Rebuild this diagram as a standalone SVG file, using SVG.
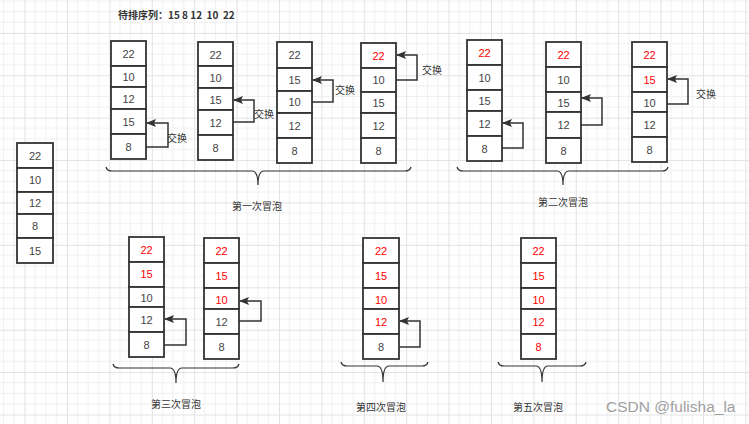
<svg xmlns="http://www.w3.org/2000/svg" width="749" height="424" viewBox="0 0 749 424">
<style>
.c{fill:#fff;stroke:#333;stroke-width:1.8}
.t{font-family:"Liberation Sans","Noto Sans CJK SC",sans-serif;font-size:11px;fill:#444;text-anchor:middle;dominant-baseline:central}
.r{fill:#f00}
.a{fill:none;stroke:#333;stroke-width:1.5}
.b{fill:none;stroke:#333;stroke-width:1.2}
.l{font-family:"Noto Sans CJK SC",sans-serif;font-size:10px;fill:#333;dominant-baseline:central}
.m{font-family:"Noto Sans CJK SC",sans-serif;font-size:10px;fill:#333;text-anchor:middle;dominant-baseline:central}
</style>
<defs>
<pattern id="g" patternUnits="userSpaceOnUse" width="42.4" height="42.4" x="24.6" y="32.9">
<path d="M10.6,0V42.4M21.2,0V42.4M31.8,0V42.4M0,10.6H42.4M0,21.2H42.4M0,31.8H42.4" stroke="#f0f0f0" stroke-width="1" fill="none"/>
<path d="M0.5,0V42.4M0,0.5H42.4" stroke="#e2e2e2" stroke-width="1" fill="none"/>
</pattern>
<marker id="ah" viewBox="0 0 10 10" refX="9" refY="5" markerWidth="10" markerHeight="10" markerUnits="userSpaceOnUse" orient="auto">
<path d="M0,1L10,5L0,9L2,5Z" fill="#333"/>
</marker>
</defs>
<rect width="749" height="424" fill="#fff"/>
<rect width="749" height="424" fill="url(#g)"/>
<text x="118" y="14" font-family="'Noto Sans CJK SC',sans-serif" font-size="10" font-weight="bold" fill="#333" dominant-baseline="central" xml:space="preserve">待排序列：15 8 12  10  22</text>

<g id="s0">
<rect class="c" x="17" y="143" width="36" height="25"/><rect class="c" x="17" y="168" width="36" height="24"/><rect class="c" x="17" y="192" width="36" height="22"/><rect class="c" x="17" y="214" width="36" height="24"/><rect class="c" x="17" y="238" width="36" height="25"/>
<text class="t" x="35" y="155.5">22</text><text class="t" x="35" y="180">10</text><text class="t" x="35" y="203">12</text><text class="t" x="35" y="226">8</text><text class="t" x="35" y="250.5">15</text>
</g>

<g id="s1">
<rect class="c" x="111" y="41" width="35" height="25"/><rect class="c" x="111" y="66" width="35" height="21"/><rect class="c" x="111" y="87" width="35" height="22"/><rect class="c" x="111" y="109" width="35" height="25"/><rect class="c" x="111" y="134" width="35" height="25"/>
<text class="t" x="128.5" y="53.5">22</text><text class="t" x="128.5" y="77">10</text><text class="t" x="128.5" y="98.5">12</text><text class="t" x="128.5" y="121.5">15</text><text class="t" x="128.5" y="146.5">8</text>
</g>
<g id="s2">
<rect class="c" x="198" y="42" width="35" height="24"/><rect class="c" x="198" y="66" width="35" height="22"/><rect class="c" x="198" y="88" width="35" height="22"/><rect class="c" x="198" y="110" width="35" height="25"/><rect class="c" x="198" y="135" width="35" height="25"/>
<text class="t" x="215.5" y="54.5">22</text><text class="t" x="215.5" y="77.5">10</text><text class="t" x="215.5" y="100">15</text><text class="t" x="215.5" y="122.5">12</text><text class="t" x="215.5" y="147.5">8</text>
</g>
<g id="s3">
<rect class="c" x="277" y="42" width="35" height="26"/><rect class="c" x="277" y="68" width="35" height="23"/><rect class="c" x="277" y="91" width="35" height="22"/><rect class="c" x="277" y="113" width="35" height="25"/><rect class="c" x="277" y="138" width="35" height="25"/>
<text class="t" x="294.5" y="55">22</text><text class="t" x="294.5" y="80">15</text><text class="t" x="294.5" y="102">10</text><text class="t" x="294.5" y="125.5">12</text><text class="t" x="294.5" y="150.5">8</text>
</g>
<g id="s4">
<rect class="c" x="361" y="43" width="35" height="25"/><rect class="c" x="361" y="68" width="35" height="24"/><rect class="c" x="361" y="92" width="35" height="21"/><rect class="c" x="361" y="113" width="35" height="25"/><rect class="c" x="361" y="138" width="35" height="25"/>
<text class="t r" x="378.5" y="55.5">22</text><text class="t" x="378.5" y="80">10</text><text class="t" x="378.5" y="103">15</text><text class="t" x="378.5" y="125.5">12</text><text class="t" x="378.5" y="150.5">8</text>
</g>
<g id="s5">
<rect class="c" x="467" y="40" width="35" height="25"/><rect class="c" x="467" y="65" width="35" height="25"/><rect class="c" x="467" y="90" width="35" height="21"/><rect class="c" x="467" y="111" width="35" height="25"/><rect class="c" x="467" y="136" width="35" height="25"/>
<text class="t r" x="484.5" y="52.5">22</text><text class="t" x="484.5" y="77.5">10</text><text class="t" x="484.5" y="101">15</text><text class="t" x="484.5" y="123.5">12</text><text class="t" x="484.5" y="148.5">8</text>
</g>
<g id="s6">
<rect class="c" x="546" y="42" width="35" height="25"/><rect class="c" x="546" y="67" width="35" height="25"/><rect class="c" x="546" y="92" width="35" height="20"/><rect class="c" x="546" y="112" width="35" height="26"/><rect class="c" x="546" y="138" width="35" height="25"/>
<text class="t r" x="563.5" y="54.5">22</text><text class="t" x="563.5" y="79.5">10</text><text class="t" x="563.5" y="103">15</text><text class="t" x="563.5" y="125">12</text><text class="t" x="563.5" y="150.5">8</text>
</g>
<g id="s7">
<rect class="c" x="632" y="42" width="35" height="25"/><rect class="c" x="632" y="67" width="35" height="25"/><rect class="c" x="632" y="92" width="35" height="20"/><rect class="c" x="632" y="112" width="35" height="25"/><rect class="c" x="632" y="137" width="35" height="25"/>
<text class="t r" x="649.5" y="54.5">22</text><text class="t r" x="649.5" y="79.5">15</text><text class="t" x="649.5" y="103">10</text><text class="t" x="649.5" y="124.5">12</text><text class="t" x="649.5" y="149.5">8</text>
</g>
<g id="s8">
<rect class="c" x="129" y="237" width="35" height="25"/><rect class="c" x="129" y="262" width="35" height="25"/><rect class="c" x="129" y="287" width="35" height="20"/><rect class="c" x="129" y="307" width="35" height="25"/><rect class="c" x="129" y="332" width="35" height="25"/>
<text class="t r" x="146.5" y="249.5">22</text><text class="t r" x="146.5" y="274">15</text><text class="t" x="146.5" y="298">10</text><text class="t" x="146.5" y="319.5">12</text><text class="t" x="146.5" y="345">8</text>
</g>
<g id="s9">
<rect class="c" x="204" y="238" width="35" height="25"/><rect class="c" x="204" y="263" width="35" height="25"/><rect class="c" x="204" y="288" width="35" height="21"/><rect class="c" x="204" y="309" width="35" height="25"/><rect class="c" x="204" y="334" width="35" height="25"/>
<text class="t r" x="221.5" y="251">22</text><text class="t r" x="221.5" y="276">15</text><text class="t r" x="221.5" y="300">10</text><text class="t" x="221.5" y="321.5">12</text><text class="t" x="221.5" y="347">8</text>
</g>
<g id="s10">
<rect class="c" x="363" y="238" width="36" height="25"/><rect class="c" x="363" y="263" width="36" height="25"/><rect class="c" x="363" y="288" width="36" height="21"/><rect class="c" x="363" y="309" width="36" height="25"/><rect class="c" x="363" y="334" width="36" height="25"/>
<text class="t r" x="381" y="251">22</text><text class="t r" x="381" y="276">15</text><text class="t r" x="381" y="300">10</text><text class="t r" x="381" y="321.5">12</text><text class="t" x="381" y="347">8</text>
</g>
<g id="s11">
<rect class="c" x="521" y="238" width="35" height="25"/><rect class="c" x="521" y="263" width="35" height="25"/><rect class="c" x="521" y="288" width="35" height="21"/><rect class="c" x="521" y="309" width="35" height="25"/><rect class="c" x="521" y="334" width="35" height="25"/>
<text class="t r" x="538.5" y="251">22</text><text class="t r" x="538.5" y="276">15</text><text class="t r" x="538.5" y="300">10</text><text class="t r" x="538.5" y="321.5">12</text><text class="t r" x="538.5" y="347">8</text>
</g>

<g id="connectors">
<path class="a" d="M146,147H168V123H147" marker-end="url(#ah)"/>
<path class="a" d="M233,122H254V100H234" marker-end="url(#ah)"/>
<path class="a" d="M312,102H333V80H313" marker-end="url(#ah)"/>
<path class="a" d="M396,80H417V55H397" marker-end="url(#ah)"/>
<path class="a" d="M502,148H523V123H503" marker-end="url(#ah)"/>
<path class="a" d="M581,125H602V98H582" marker-end="url(#ah)"/>
<path class="a" d="M667,104H688V79H668" marker-end="url(#ah)"/>
<path class="a" d="M164,345H186V319H165" marker-end="url(#ah)"/>
<path class="a" d="M239,321H261V301H240" marker-end="url(#ah)"/>
<path class="a" d="M399,347H420V321H400" marker-end="url(#ah)"/>
</g>
<g id="swap-labels">
<text class="l" x="167" y="137">交换</text>
<text class="l" x="254" y="113">交换</text>
<text class="l" x="335" y="89">交换</text>
<text class="l" x="422" y="69">交换</text>
<text class="l" x="696" y="93">交换</text>
</g>

<g id="braces">
<path class="b" d="M106,167Q107,171 112,171H252Q258,171 258,185Q258,171 264,171H405Q410,171 411,167"/>
<path class="b" d="M457,167Q458,171 463,171H557Q563,171 563,185Q563,171 569,171H662Q667,171 668,167"/>
<path class="b" d="M113,364Q114,368 119,368H170Q176,368 176,383Q176,368 182,368H233Q238,368 239,364"/>
<path class="b" d="M341,362Q342,366 347,366H377Q383,366 383,382Q383,366 389,366H422Q427,366 428,362"/>
<path class="b" d="M498,362Q499,366 504,366H536Q542,366 542,382Q542,366 548,366H580Q585,366 586,362"/>
</g>
<g id="brace-labels">
<text class="m" x="257" y="205">第一次冒泡</text>
<text class="m" x="563" y="201">第二次冒泡</text>
<text class="m" x="176" y="403">第三次冒泡</text>
<text class="m" x="381" y="406">第四次冒泡</text>
<text class="m" x="538" y="406">第五次冒泡</text>
</g>
<text x="606" y="412" font-family="'Liberation Sans',sans-serif" font-size="15.5" fill="#a0a0a0">CSDN @fulisha_la</text>
</svg>
